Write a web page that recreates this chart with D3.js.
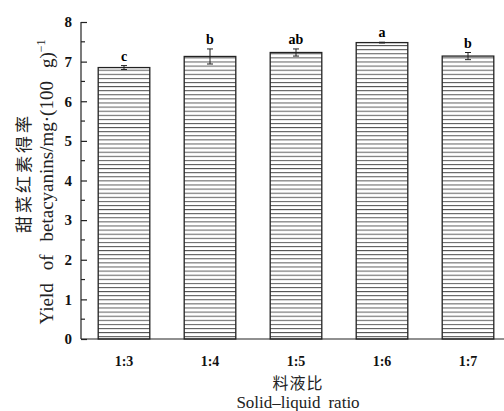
<!DOCTYPE html>
<html><head><meta charset="utf-8">
<script src="https://cdn.jsdelivr.net/npm/d3@7"></script>
<style>body{margin:0;background:#fff}svg{display:block}</style>
</head><body>
<svg id="c" width="504" height="411"></svg>
<script>
const categories = ["1:3","1:4","1:5","1:6","1:7"];
const values = [6.85, 7.13, 7.23, 7.48, 7.14];
const errors = [0.05, 0.19, 0.09, 0.01, 0.09];
const letters = ["c","b","ab","a","b"];
const yTicks = [0,1,2,3,4,5,6,7,8];

const svg = d3.select("#c");
const serif = "'Liberation Serif','Times New Roman',serif";
const x = d3.scaleBand().domain(categories).range([81, 511]).paddingInner(0.4).paddingOuter(0.2);
const y = d3.scaleLinear().domain([0, 8]).range([339, 22]);

const defs = svg.append("defs");
const pat = defs.append("pattern").attr("id","hatch").attr("patternUnits","userSpaceOnUse")
  .attr("width",8).attr("height",4.1).attr("y", 0);
pat.append("rect").attr("width",8).attr("height",4.1).attr("fill","#fff");
pat.append("line").attr("x1",0).attr("x2",8).attr("y1",0.5).attr("y2",0.5).attr("stroke","#555").attr("stroke-width",1);

// bars
svg.selectAll("rect.bar").data(categories).join("rect").attr("class","bar")
  .attr("x", d => x(d)).attr("width", x.bandwidth())
  .attr("y", (d,i) => y(values[i])).attr("height", (d,i) => y(0) - y(values[i]))
  .attr("fill","url(#hatch)").attr("stroke","#222").attr("stroke-width",1.3);

// error bars
const eb = svg.append("g").attr("stroke","#222").attr("stroke-width",1);
categories.forEach((c,i) => {
  const cx = x(c) + x.bandwidth()/2;
  const t = y(values[i] + errors[i]), b = y(values[i] - errors[i]);
  eb.append("line").attr("x1",cx).attr("x2",cx).attr("y1",t).attr("y2",b);
  eb.append("line").attr("x1",cx-3).attr("x2",cx+3).attr("y1",t).attr("y2",t);
  eb.append("line").attr("x1",cx-3).attr("x2",cx+3).attr("y1",b).attr("y2",b);
  svg.append("text").attr("x",cx).attr("y",t-5).attr("text-anchor","middle")
    .attr("font-family",serif).attr("font-weight","bold").attr("font-size",14).text(letters[i]);
});

// y axis
const yAxis = d3.axisLeft(y).tickValues(yTicks).tickSize(-6).tickPadding(9).tickFormat(d3.format("d"));
const gy = svg.append("g").attr("transform","translate(81,0)").call(yAxis);
gy.select(".domain").attr("d","M0,22V339").attr("stroke","#222").attr("stroke-width",1.2);
gy.selectAll(".tick line").attr("stroke","#222").attr("stroke-width",1.2);
gy.selectAll("text").attr("font-family",serif).attr("font-weight","bold").attr("font-size",15).attr("fill","#111");
const minor = d3.range(0.5, 8, 1);
gy.selectAll(".minor").data(minor).join("line").attr("class","minor")
  .attr("x1",0).attr("x2",4).attr("y1",d=>y(d)).attr("y2",d=>y(d)).attr("stroke","#222").attr("stroke-width",1.2);

// x axis
const xAxis = d3.axisBottom(x).tickSize(0).tickPadding(17);
const gx = svg.append("g").attr("transform","translate(0,339)").call(xAxis);
gx.select(".domain").attr("d","M81,0H504").attr("stroke","#222").attr("stroke-width",1.2);
gx.selectAll("text").attr("font-family",serif).attr("font-weight","bold").attr("font-size",14).attr("fill","#111");

// axis titles
svg.append("text").attr("x",298).attr("y",389).attr("text-anchor","middle")
  .attr("font-family","'Noto Sans CJK SC',sans-serif").attr("font-size",16).attr("letter-spacing",1).attr("fill","#222").text("料液比");
const xt = svg.append("text").attr("x",298).attr("y",408).attr("text-anchor","middle")
  .attr("font-family",serif).attr("font-size",17).attr("fill","#222");
xt.append("tspan").text("Solid–liquid");
xt.append("tspan").attr("dx",8).text("ratio");

svg.append("text").attr("transform","translate(30,173) rotate(-90)").attr("text-anchor","middle")
  .attr("font-family","'Noto Sans CJK SC',sans-serif").attr("font-size",17).attr("letter-spacing",3).attr("fill","#222").text("甜菜红素得率");
const yl = svg.append("text").attr("transform","translate(53,182) rotate(-90)").attr("text-anchor","middle")
  .attr("font-family",serif).attr("font-size",19).attr("fill","#222");
yl.append("tspan").text("Yield");
yl.append("tspan").attr("dx",13).text("of");
yl.append("tspan").attr("dx",13).text("betacyanins/mg·(100");
yl.append("tspan").attr("dx",13).text("g)");
yl.append("tspan").attr("dy",-8).attr("font-size",12).text("−1");
</script>
</body></html>
